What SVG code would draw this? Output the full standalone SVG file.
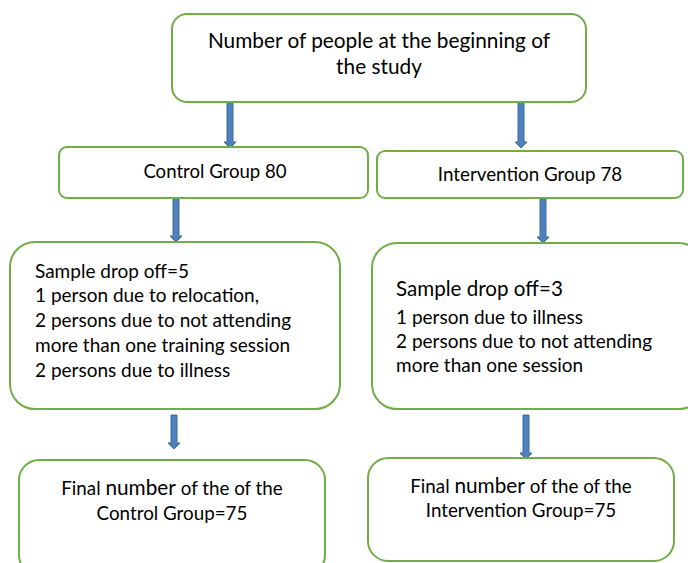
<svg xmlns="http://www.w3.org/2000/svg" width="688" height="563" viewBox="0 0 688 563">
<style>
.box{fill:#fff;stroke:#70AD47;stroke-width:2}
.t{font-family:Lato,"Liberation Sans",sans-serif;fill:#000}
.arr{fill:#4F81BD;stroke:#3C6A9E;stroke-width:1}
</style>
<rect width="688" height="563" fill="#fff"/>
<g id="connectors">
<path class="arr" d="M227,102 H233 V142 H236 L230,148 L224,142 H227 Z"/>
<path class="arr" d="M518,102 H524 V142 H527 L521,148 L515,142 H518 Z"/>
<path class="arr" d="M173,198 H179 V236 H182 L176,242 L170,236 H173 Z"/>
<path class="arr" d="M540,199 H546 V237 H549 L543,243 L537,237 H540 Z"/>
<path class="arr" d="M171,415 H177 V443 H180 L174,449 L168,443 H171 Z"/>
<path class="arr" d="M523,415 H529 V453 H532 L526,459 L520,453 H523 Z"/>
</g>
<g id="start">
<rect class="box" x="172" y="14" width="414" height="88" rx="15"/>
<text class="t" font-size="20.8" text-anchor="middle"><tspan x="379" y="48">Number of people at the beginning of</tspan><tspan x="379" y="74">the study</tspan></text>
</g>
<g id="control">
<rect class="box" x="59" y="147" width="309" height="51" rx="8"/>
<text class="t" font-size="18.6" text-anchor="middle" x="215" y="178">Control Group 80</text>
</g>
<g id="intervention">
<rect class="box" x="377" y="151" width="306" height="47" rx="8"/>
<text class="t" font-size="18.8" text-anchor="middle" x="530" y="181">Intervention Group 78</text>
</g>
<g id="dropoff-control">
<rect class="box" x="10" y="242" width="330" height="167" rx="25"/>
<text class="t" font-size="19"><tspan x="35" y="278">Sample drop off=5</tspan><tspan x="35" y="302">1 person due to relocation,</tspan><tspan x="35" y="327">2 persons due to not attending</tspan><tspan x="35" y="352">more than one training session</tspan><tspan x="35" y="377">2 persons due to illness</tspan></text>
</g>
<g id="dropoff-intervention">
<rect class="box" x="372" y="243" width="332" height="166" rx="25"/>
<text class="t" x="396" y="296" font-size="20.6">Sample drop off=3</text>
<text class="t" font-size="19"><tspan x="396" y="324">1 person due to illness</tspan><tspan x="396" y="348">2 persons due to not attending</tspan><tspan x="396" y="372">more than one session</tspan></text>
</g>
<g id="final-control">
<rect class="box" x="19" y="460" width="306" height="115" rx="20"/>
<text class="t" font-size="18.8" text-anchor="middle"><tspan x="172" y="495">Final <tspan font-size="20.8">number</tspan> of the of the</tspan><tspan x="172" y="520">Control Group=75</tspan></text>
</g>
<g id="final-intervention">
<rect class="box" x="368" y="458" width="306" height="103" rx="20"/>
<text class="t" font-size="18.8" text-anchor="middle"><tspan x="521" y="493">Final <tspan font-size="20.8">number</tspan> of the of the</tspan><tspan x="521" y="517">Intervention Group=75</tspan></text>
</g>
</svg>
